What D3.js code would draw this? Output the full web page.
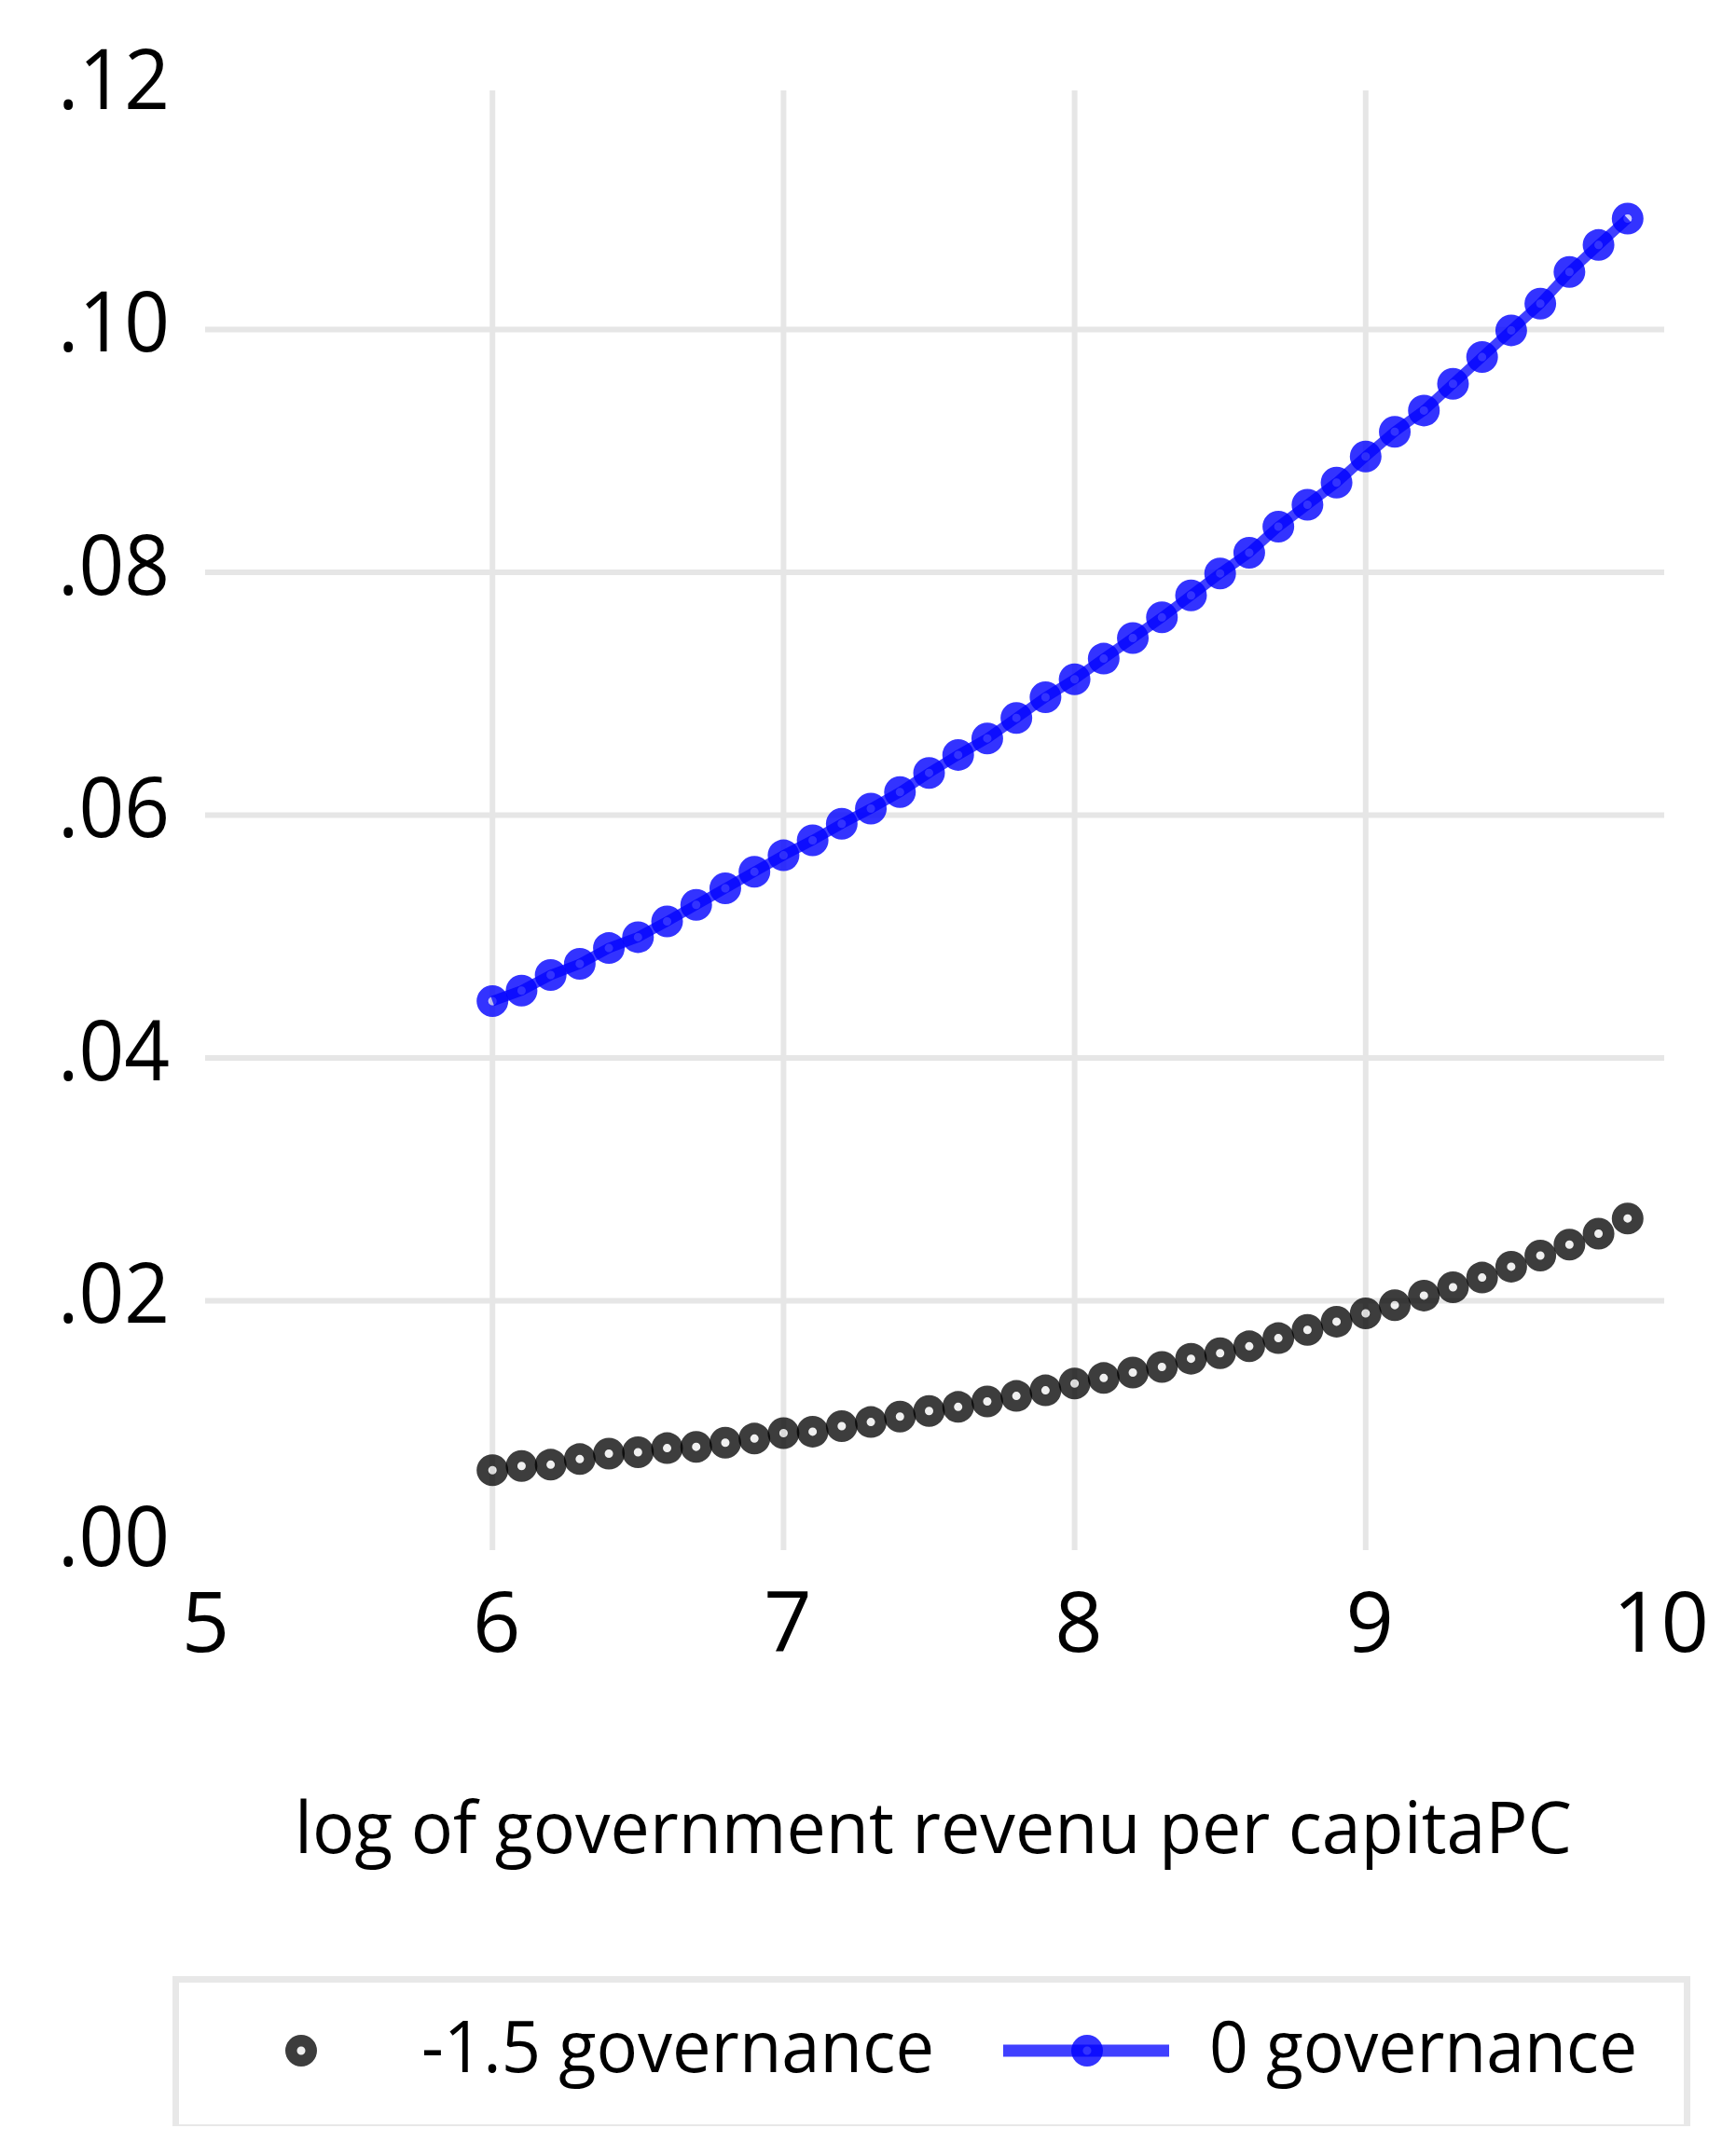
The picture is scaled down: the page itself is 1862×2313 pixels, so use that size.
<!DOCTYPE html>
<html>
<head>
<meta charset="utf-8">
<script src="https://cdn.jsdelivr.net/npm/d3@7"></script>
<style>
  html, body { margin: 0; padding: 0; background: #ffffff; }
  svg { display: block; }
  text { font-family: "Open Sans", "Noto Sans", sans-serif; fill: #000; }
</style>
</head>
<body>
<svg id="chart" width="1862" height="2313"></svg>
<script>
// ---------- data ----------
const xValues = [6.0,6.1,6.2,6.3,6.4,6.5,6.6,6.7,6.8,6.9,
                 7.0,7.1,7.2,7.3,7.4,7.5,7.6,7.7,7.8,7.9,
                 8.0,8.1,8.2,8.3,8.4,8.5,8.6,8.7,8.8,8.9,
                 9.0,9.1,9.2,9.3,9.4,9.5,9.6,9.7,9.8,9.9];
const govLowValues = [0.00605,0.00639,0.00650,0.00696,0.00741,0.00752,0.00786,0.00797,0.00831,0.00865,
                      0.00910,0.00922,0.00967,0.01001,0.01046,0.01092,0.01126,0.01171,0.01216,0.01262,
                      0.01319,0.01364,0.01409,0.01455,0.01523,0.01568,0.01625,0.01692,0.01760,0.01828,
                      0.01896,0.01964,0.02043,0.02111,0.02191,0.02281,0.02372,0.02463,0.02553,0.02678];
const govZeroValues = [0.04468,0.04555,0.04683,0.04775,0.04905,0.04995,0.05125,0.05261,0.05397,0.05533,
                       0.05669,0.05793,0.05929,0.06054,0.06190,0.06348,0.06496,0.06632,0.06801,0.06971,
                       0.07119,0.07289,0.07459,0.07629,0.07810,0.07991,0.08161,0.08376,0.08557,0.08739,
                       0.08954,0.09158,0.09333,0.09553,0.09773,0.09993,0.10213,0.10474,0.10696,0.10914];
const xTicks = [5, 6, 7, 8, 9, 10];
const xGridTicks = [6, 7, 8, 9];
const yTicks = [0, 0.02, 0.04, 0.06, 0.08, 0.10, 0.12];
const yGridTicks = [0.02, 0.04, 0.06, 0.08, 0.10];
const yTickLabels = [".00", ".02", ".04", ".06", ".08", ".10", ".12"];
const seriesNames = ["-1.5 governance", "0 governance"];
const xTitle = "log of government revenu per capitaPC";

// ---------- layout ----------
const svg = d3.select("#chart");
svg.append("rect").attr("width", 1862).attr("height", 2313).attr("fill", "#fff");

const x = d3.scaleLinear().domain([5, 10]).range([216, 1777]);
const y = d3.scaleLinear().domain([0, 0.12]).range([1656, 93]);

const gridColor = "#e6e6e6";
const gridW = 6;

// gridlines
const grid = svg.append("g");
grid.selectAll("line.h").data(yGridTicks).join("line")
  .attr("x1", x(5) + 4).attr("x2", x(10) + 8)
  .attr("y1", d => y(d)).attr("y2", d => y(d))
  .attr("stroke", gridColor).attr("stroke-width", gridW);
grid.selectAll("line.v").data(xGridTicks).join("line")
  .attr("x1", d => x(d)).attr("x2", d => x(d))
  .attr("y1", y(0.12) + 4).attr("y2", y(0) + 7)
  .attr("stroke", gridColor).attr("stroke-width", gridW);

// y axis labels
const yAxis = d3.axisLeft(y).tickValues(yTicks)
  .tickFormat((d, i) => yTickLabels[i]).tickSize(0).tickPadding(0);
const gy = svg.append("g").attr("transform", "translate(182,0)").call(yAxis);
gy.select(".domain").remove();
gy.selectAll("text")
  .attr("font-family", "'Open Sans', sans-serif")
  .attr("font-size", 90)
  .attr("fill", "#000")
  .attr("dy", 0)
  .attr("y", 23)
  .attr("x", 0)
  .attr("textLength", 120)
  .attr("lengthAdjust", "spacingAndGlyphs")
  .style("text-anchor", "end");

// x axis labels
const xAxis = d3.axisBottom(x).tickValues(xTicks).tickFormat(d3.format("d")).tickSize(0).tickPadding(0);
const gx = svg.append("g").attr("transform", "translate(4,1772)").call(xAxis);
gx.select(".domain").remove();
gx.selectAll("text")
  .attr("font-family", "'Open Sans', sans-serif")
  .attr("font-size", 90)
  .attr("fill", "#000")
  .attr("dy", 0)
  .attr("y", 0)
  .style("text-anchor", "middle");

// x title
svg.append("text")
  .attr("x", 1001).attr("y", 1988)
  .attr("text-anchor", "middle")
  .attr("font-size", 76)
  .attr("textLength", 1370)
  .attr("lengthAdjust", "spacingAndGlyphs")
  .text(xTitle);

// marker helper
const rOut = 17, rIn = 4.5;
function ringPath(cx, cy) {
  return `M${cx + rOut},${cy} A${rOut},${rOut} 0 1,0 ${cx - rOut},${cy} A${rOut},${rOut} 0 1,0 ${cx + rOut},${cy} Z ` +
         `M${cx + rIn},${cy} A${rIn},${rIn} 0 1,1 ${cx - rIn},${cy} A${rIn},${rIn} 0 1,1 ${cx + rIn},${cy} Z`;
}
function drawMarkers(g, pts, color, ringOp, holeOp) {
  const m = g.selectAll("g.m").data(pts).join("g").attr("class", "m");
  m.append("path").attr("d", d => ringPath(d[0], d[1]))
    .attr("fill", color).attr("fill-opacity", ringOp).attr("fill-rule", "evenodd");
  m.append("circle").attr("cx", d => d[0]).attr("cy", d => d[1]).attr("r", rIn)
    .attr("fill", color).attr("fill-opacity", holeOp);
}

const lowPts = xValues.map((v, i) => [x(v), y(govLowValues[i])]);
const zeroPts = xValues.map((v, i) => [x(v), y(govZeroValues[i])]);

// series 1: markers only
drawMarkers(svg.append("g"), lowPts, "#000000", 0.76, 0.06);

// series 2: line + markers
svg.append("path")
  .datum(xValues.map((v, i) => [v, govZeroValues[i]]))
  .attr("d", d3.line().x(d => x(d[0])).y(d => y(d[1])))
  .attr("fill", "none")
  .attr("stroke", "#0000ff").attr("stroke-opacity", 0.75)
  .attr("stroke-width", 11);
drawMarkers(svg.append("g"), zeroPts, "#0000ff", 0.8, 0.2);

// ---------- legend ----------
const lg = svg.append("g");
lg.append("path")
  .attr("d", "M188.5,2280 L188.5,2123.5 L1809.5,2123.5 L1809.5,2280")
  .attr("fill", "none").attr("stroke", "#e8e8e8").attr("stroke-width", 7);
lg.append("line").attr("x1", 185).attr("x2", 1813).attr("y1", 2280).attr("y2", 2280)
  .attr("stroke", "#e8e8e8").attr("stroke-width", 2);

drawMarkers(lg.append("g"), [[323, 2200]], "#000000", 0.76, 0.06);
lg.append("text").attr("x", 452).attr("y", 2223)
  .attr("font-size", 77).attr("textLength", 550).attr("lengthAdjust", "spacingAndGlyphs")
  .text(seriesNames[0]);

lg.append("line").attr("x1", 1076).attr("x2", 1254).attr("y1", 2200).attr("y2", 2200)
  .attr("stroke", "#0000ff").attr("stroke-opacity", 0.75).attr("stroke-width", 13);
drawMarkers(lg.append("g"), [[1166, 2200]], "#0000ff", 0.8, 0.2);
lg.append("text").attr("x", 1297).attr("y", 2223)
  .attr("font-size", 77).attr("textLength", 459).attr("lengthAdjust", "spacingAndGlyphs")
  .text(seriesNames[1]);
</script>
</body>
</html>
